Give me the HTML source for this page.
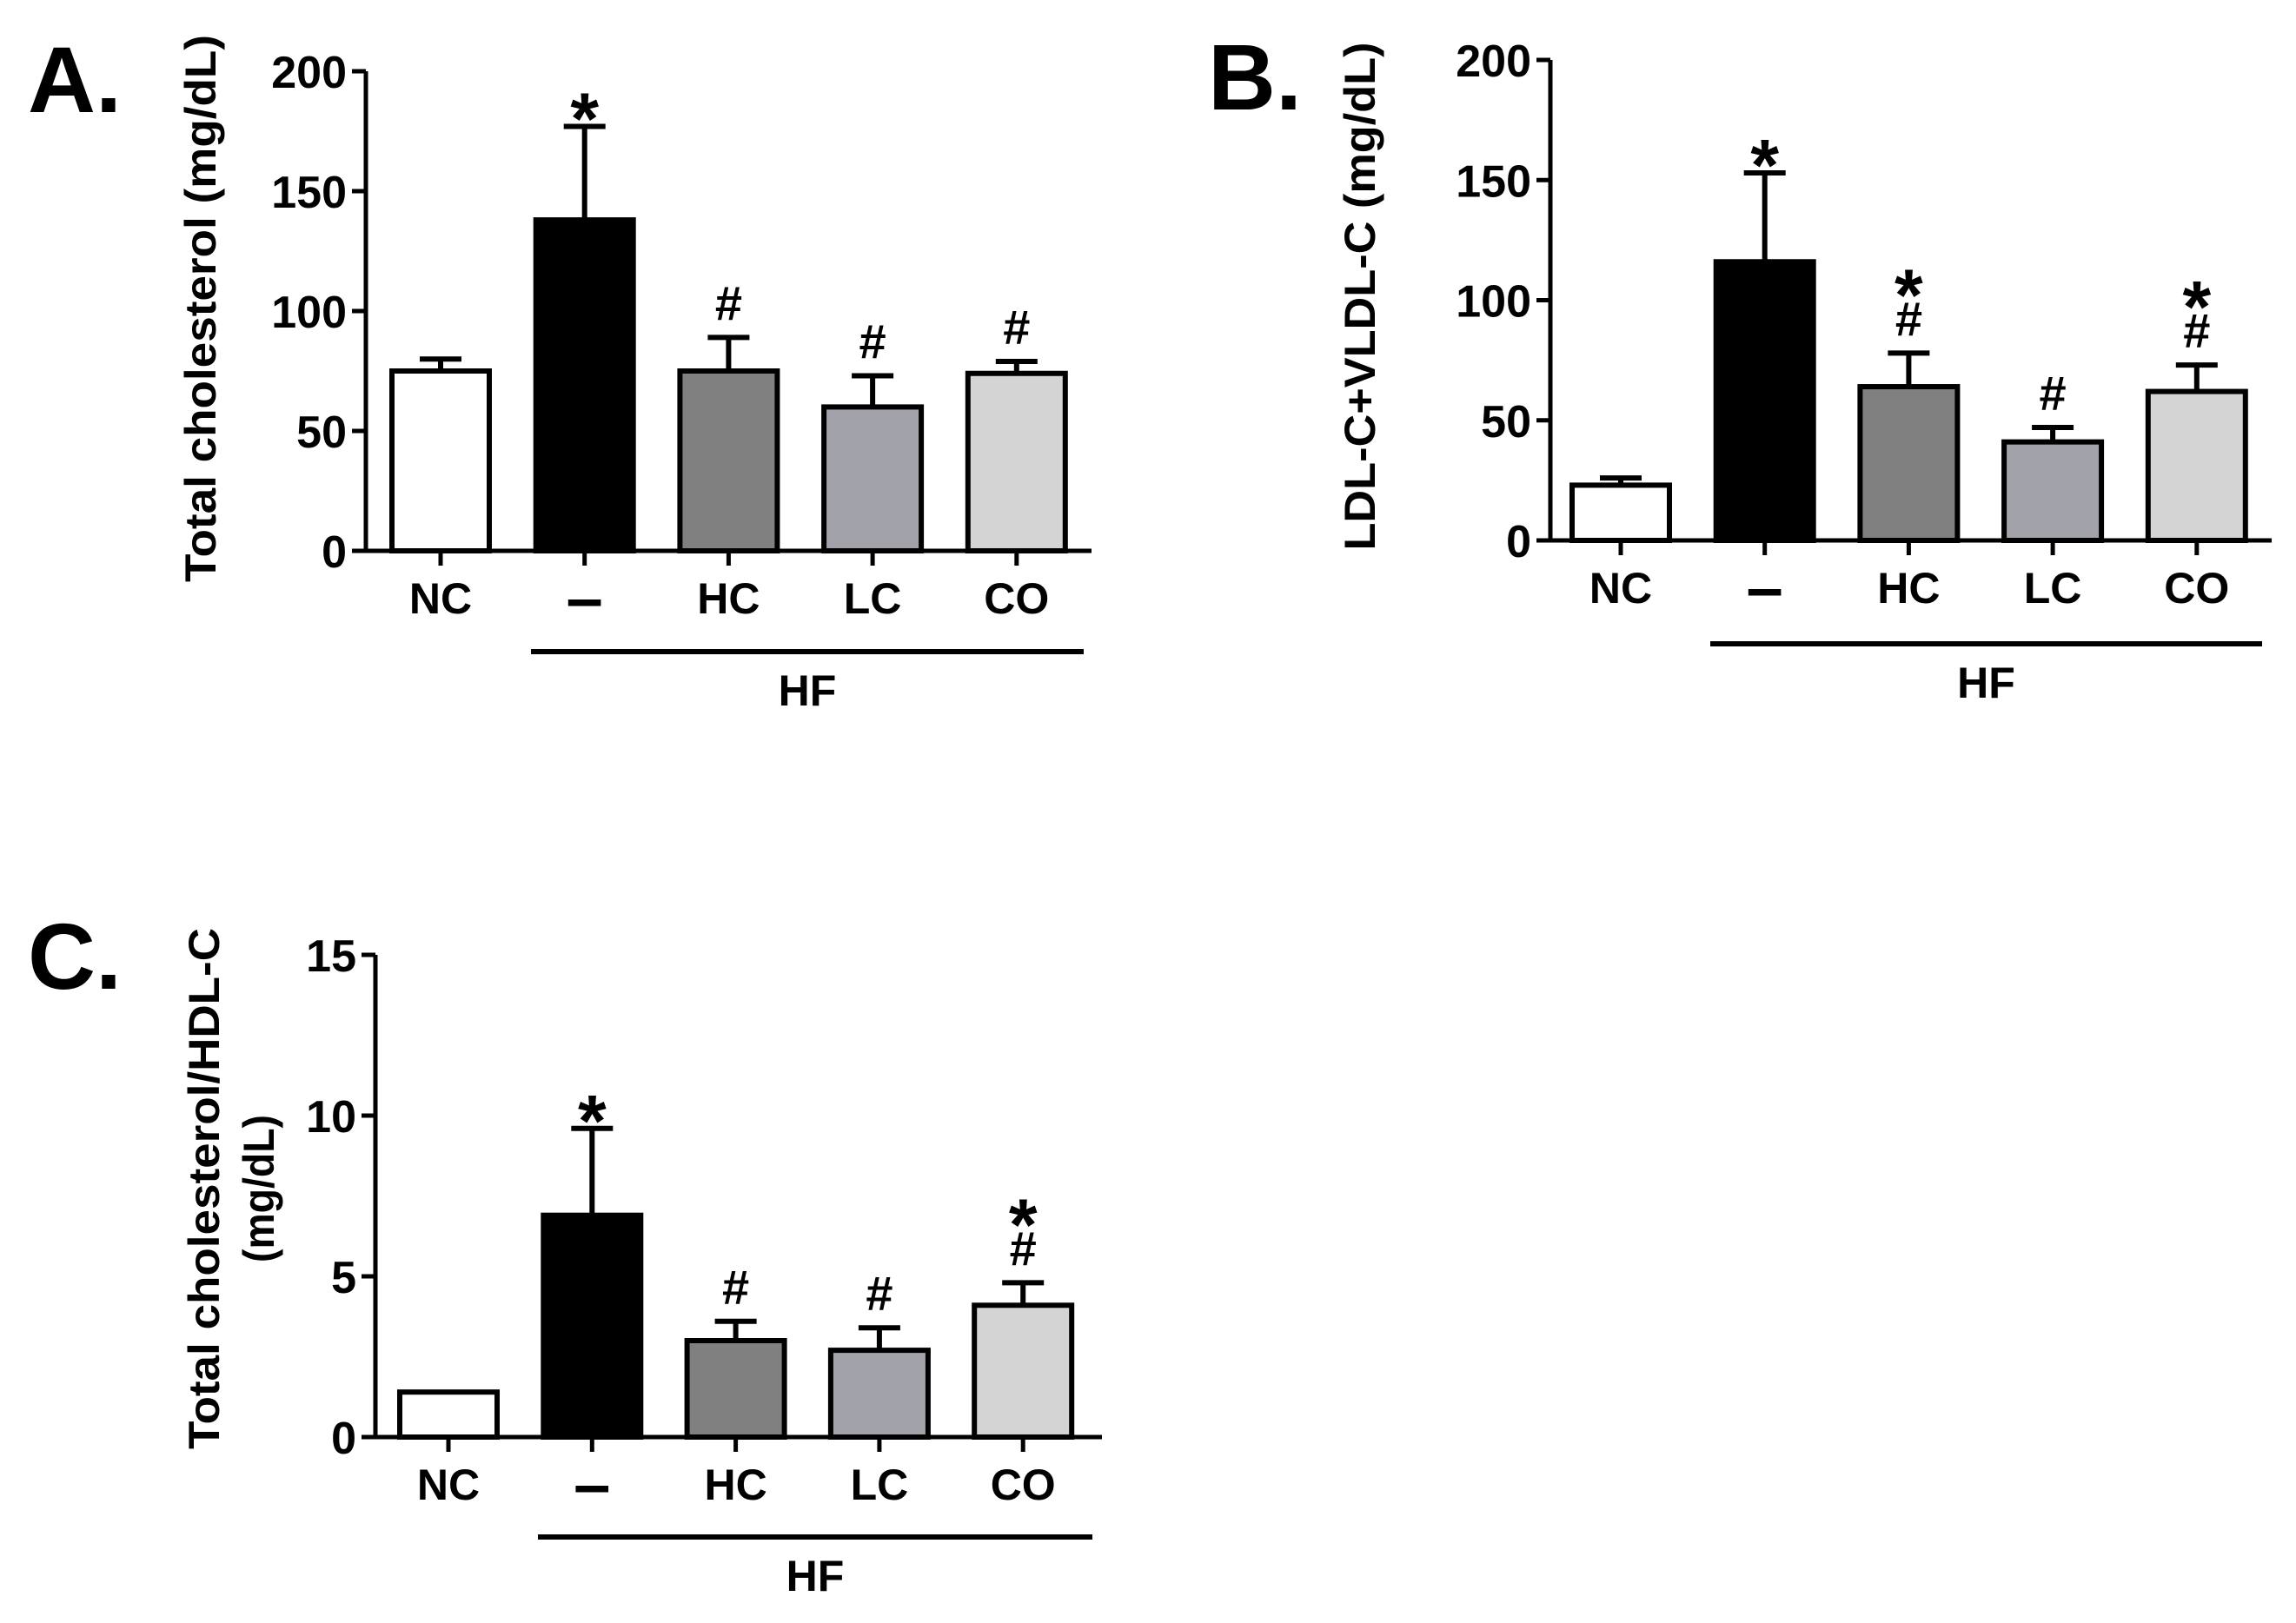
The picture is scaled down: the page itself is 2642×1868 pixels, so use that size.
<!DOCTYPE html>
<html><head><meta charset="utf-8">
<style>
html,body{margin:0;padding:0;background:#fff;}
svg{display:block;font-family:"Liberation Sans",Arial,sans-serif;font-weight:bold;}
</style></head>
<body>
<svg id="fig" width="2642" height="1868" viewBox="0 0 2642 1868" xmlns="http://www.w3.org/2000/svg"></svg>
<script>
const categories = ["NC", "\u2013", "HC", "LC", "CO"];
const barColors = ["#ffffff", "#000000", "#808080", "#a2a2aa", "#d4d4d4"];
// Panel A
const aValues = [75, 138, 75, 60, 74];
const aErrors = [5, 39, 14, 13, 5];
const aTicks = [0, 50, 100, 150, 200];
const aMarks = [[], ["*"], ["#"], ["#"], ["#"]];
// Panel B
const bValues = [23, 116, 64, 41, 62];
const bErrors = [3, 37, 14, 6, 11];
const bTicks = [0, 50, 100, 150, 200];
const bMarks = [[], ["*"], ["#", "*"], ["#"], ["#", "*"]];
// Panel C
const cValues = [1.4, 6.9, 3.0, 2.7, 4.1];
const cErrors = [0, 2.7, 0.6, 0.7, 0.7];
const cTicks = [0, 5, 10, 15];
const cMarks = [[], ["*"], ["#"], ["#"], ["#", "*"]];

const NS = "http://www.w3.org/2000/svg";
const svg = document.getElementById("fig");
function mk(tag, attrs, parent, text) {
  const e = document.createElementNS(NS, tag);
  for (const k in attrs) e.setAttribute(k, attrs[k]);
  if (text !== undefined) e.textContent = text;
  (parent || svg).appendChild(e);
  return e;
}

function panel(cfg) {
  const g = mk("g", {});
  
  
  const yMax = cfg.ticks[cfg.ticks.length - 1];
  const y = v => cfg.y0 - (v / yMax) * (cfg.y0 - cfg.yTop);
  const x = i => cfg.x0 + i * cfg.step;
  const L = mk("text", {x: cfg.letterX, y: cfg.letterY, "font-size": 108}, g, cfg.letter);
  
  
  cfg.values.forEach((v, i) => {
    const cx = x(i), w = 112;
    const eTop = y(v + cfg.errors[i]);
    if (cfg.errors[i] > 0) {
      const eb = mk("path", {d: `M${cx},${y(v)} V${eTop} M${cx-24},${eTop} H${cx+24}`, stroke: "#000", "stroke-width": 6, fill: "none"}, g);
      
      
    }
    const r = mk("rect", {x: cx - w/2, y: y(v), width: w, height: cfg.y0 - y(v), fill: barColors[i], stroke: "#000", "stroke-width": 6}, g);
    
    
    let my = eTop - 20;
    cfg.marks[i].forEach(m => {
      const star = m === "*";
      const t = mk("text", {x: cx, y: star ? my + 40 : my, "text-anchor": "middle", "font-size": star ? 84 : 56}, g, m);
      
      
      my -= 58;
    });
    const tk = mk("line", {x1: cx, x2: cx, y1: cfg.y0, y2: cfg.y0 + 17, stroke: "#000", "stroke-width": 5}, g);
    
    
    const dash = i === 1;
    const tl = mk("text", {x: cx, y: cfg.y0 + (dash ? 80 : 72), "text-anchor": "middle", "font-size": dash ? 76 : 50}, g, categories[i]);
    
    
  });
  const ya = mk("line", {x1: cfg.axisX, x2: cfg.axisX, y1: cfg.yTop, y2: cfg.y0 + 2.5, stroke: "#000", "stroke-width": 5}, g);
  
  
  const xa = mk("line", {x1: cfg.axisX - 16, x2: cfg.axisEnd, y1: cfg.y0, y2: cfg.y0, stroke: "#000", "stroke-width": 5}, g);
  
  
  cfg.ticks.forEach(t => {
    const ln = mk("line", {x1: cfg.axisX - 16, x2: cfg.axisX, y1: y(t), y2: y(t), stroke: "#000", "stroke-width": 5}, g);
    
    
    const tx = mk("text", {x: cfg.axisX - 22, y: y(t) + 19, "text-anchor": "end", "font-size": 52}, g, String(t));
    
    
  });
  cfg.title.forEach((line, k) => {
    const tt = mk("text", {x: 0, y: 0, "text-anchor": "middle", "font-size": 50,
      transform: `translate(${cfg.titleX[k]},${cfg.titleY}) rotate(-90)`}, g, line);
    if (cfg.titleLen[k]) { tt.setAttribute("textLength", cfg.titleLen[k]); tt.setAttribute("lengthAdjust", "spacingAndGlyphs"); }
    
    
  });
  const hl = mk("line", {x1: cfg.hfX1, x2: cfg.hfX2, y1: cfg.hfY, y2: cfg.hfY, stroke: "#000", "stroke-width": 6}, g);
  
  
  const ht = mk("text", {x: (cfg.hfX1 + cfg.hfX2) / 2, y: cfg.hfY + 62, "text-anchor": "middle", "font-size": 50}, g, "HF");
  
  
}

panel({name: "panel-a", letter: "A.", letterX: 32, letterY: 129, values: aValues, errors: aErrors, ticks: aTicks, marks: aMarks,
  x0: 507, step: 165.7, y0: 634, yTop: 82, axisX: 421, axisEnd: 1256,
  title: ["Total cholesterol (mg/dL)"], titleX: [248], titleY: 355, titleLen: [630],
  hfX1: 611, hfX2: 1247, hfY: 750});
panel({name: "panel-b", letter: "B.", letterX: 1390, letterY: 126, values: bValues, errors: bErrors, ticks: bTicks, marks: bMarks,
  x0: 1865, step: 165.7, y0: 622, yTop: 69, axisX: 1784, axisEnd: 2614,
  title: ["LDL-C+VLDL-C (mg/dL)"], titleX: [1582], titleY: 341, titleLen: [585],
  hfX1: 1968, hfX2: 2603, hfY: 741});
panel({name: "panel-c", letter: "C.", letterX: 32, letterY: 1138, values: cValues, errors: cErrors, ticks: cTicks, marks: cMarks,
  x0: 516, step: 165.3, y0: 1654, yTop: 1099, axisX: 432, axisEnd: 1268,
  title: ["Total cholesterol/HDL-C", "(mg/dL)"], titleX: [252, 315], titleY: 1368, titleLen: [600, 170],
  hfX1: 619, hfX2: 1257, hfY: 1769});
</script>
</body></html>
